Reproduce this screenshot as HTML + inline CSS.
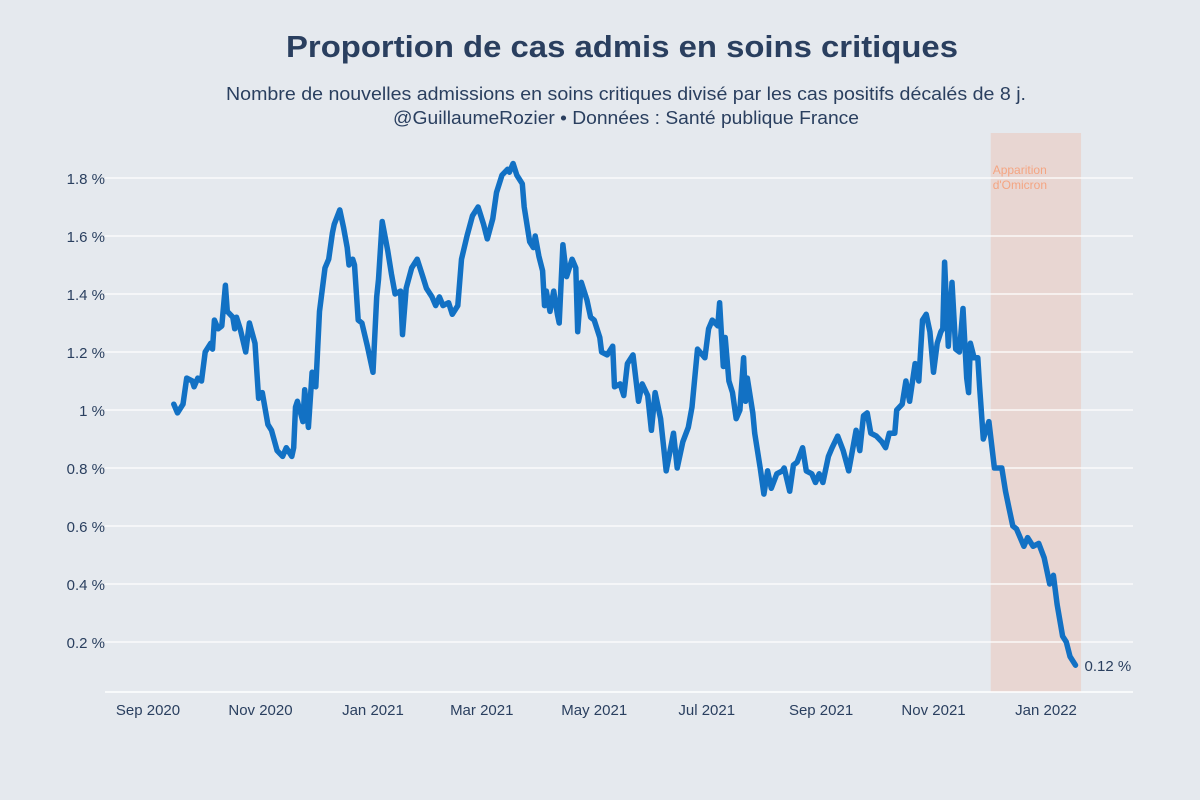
<!DOCTYPE html>
<html><head><meta charset="utf-8"><style>
html,body{margin:0;padding:0;background:#e5e9ee;}
svg{display:block;font-family:"Liberation Sans",sans-serif;}
</style></head><body>
<svg id="chart" width="1200" height="800">
<rect x="0" y="0" width="1200" height="800" fill="#e5e9ee"/>
<text x="622" y="57" text-anchor="middle" font-size="31" font-weight="bold" fill="#2a3f5f" textLength="672" lengthAdjust="spacingAndGlyphs">Proportion de cas admis en soins critiques</text>
<text x="626" y="100" text-anchor="middle" font-size="18.5" fill="#2a3f5f" textLength="800" lengthAdjust="spacingAndGlyphs">Nombre de nouvelles admissions en soins critiques divisé par les cas positifs décalés de 8 j.</text>
<text x="626" y="124" text-anchor="middle" font-size="18.5" fill="#2a3f5f" textLength="466" lengthAdjust="spacingAndGlyphs">@GuillaumeRozier • Données : Santé publique France</text>
<g id="band"></g>
<g id="grid"></g>
<g id="yaxis"></g>
<g id="xaxis"></g>
<g id="series"></g>
</svg>
<script>
const days = [14,16,19,21,24,25,27,29,31,34,35,36,38,40,42,43,46,47,48,50,53,55,58,60,62,65,67,70,73,75,76,78,79,80,81,84,85,87,89,91,93,96,98,100,101,104,106,108,109,111,112,114,116,119,122,124,125,127,130,132,134,137,138,140,143,146,149,151,154,156,158,160,163,165,168,170,173,176,179,182,184,187,189,192,195,196,198,200,203,204,207,209,210,212,214,215,216,218,220,222,223,225,227,230,232,233,235,238,240,242,245,246,249,252,253,256,258,260,263,266,268,271,273,275,278,281,285,287,290,293,295,298,302,304,306,309,310,312,313,315,317,319,321,323,324,325,328,329,332,334,336,338,341,344,345,348,350,352,355,357,360,362,364,366,369,371,374,377,380,382,384,386,388,390,392,395,398,400,402,405,406,409,411,413,416,418,420,422,424,426,428,430,431,432,434,436,438,440,442,444,445,446,448,450,451,453,456,459,463,465,467,469,471,475,477,480,483,486,489,491,493,496,498,500,503];
const values = [1.02,0.99,1.02,1.11,1.10,1.08,1.11,1.10,1.20,1.23,1.21,1.31,1.28,1.29,1.43,1.34,1.32,1.28,1.32,1.28,1.20,1.30,1.23,1.04,1.06,0.95,0.93,0.86,0.84,0.87,0.86,0.84,0.87,1.01,1.03,0.96,1.07,0.94,1.13,1.08,1.34,1.49,1.52,1.61,1.64,1.69,1.63,1.56,1.50,1.52,1.50,1.31,1.30,1.22,1.13,1.39,1.45,1.65,1.55,1.47,1.40,1.41,1.26,1.42,1.49,1.52,1.46,1.42,1.39,1.36,1.39,1.36,1.37,1.33,1.36,1.52,1.60,1.67,1.70,1.64,1.59,1.66,1.75,1.81,1.83,1.82,1.85,1.81,1.78,1.70,1.58,1.56,1.60,1.53,1.48,1.36,1.41,1.34,1.41,1.33,1.30,1.57,1.46,1.52,1.49,1.27,1.44,1.38,1.32,1.31,1.25,1.20,1.19,1.22,1.08,1.09,1.05,1.16,1.19,1.03,1.09,1.05,0.93,1.06,0.97,0.79,0.92,0.80,0.89,0.94,1.01,1.21,1.18,1.28,1.31,1.29,1.37,1.15,1.25,1.10,1.06,0.97,1.00,1.18,1.03,1.11,0.99,0.92,0.80,0.71,0.79,0.73,0.78,0.79,0.80,0.72,0.81,0.82,0.87,0.79,0.78,0.75,0.78,0.75,0.84,0.87,0.91,0.86,0.79,0.86,0.93,0.86,0.98,0.99,0.92,0.91,0.89,0.87,0.92,0.92,1.00,1.02,1.10,1.03,1.16,1.10,1.31,1.33,1.27,1.13,1.23,1.27,1.28,1.51,1.22,1.44,1.21,1.20,1.35,1.11,1.06,1.23,1.18,1.18,1.08,0.90,0.96,0.80,0.80,0.72,0.66,0.60,0.59,0.53,0.56,0.53,0.54,0.49,0.40,0.43,0.33,0.22,0.20,0.15,0.12];
const yTicks = [0.2,0.4,0.6,0.8,1,1.2,1.4,1.6,1.8];
const yTickLabels = ["0.2 %","0.4 %","0.6 %","0.8 %","1 %","1.2 %","1.4 %","1.6 %","1.8 %"];
const xTickDays = [0,61,122,181,242,303,365,426,487];
const xTickLabels = ["Sep 2020","Nov 2020","Jan 2021","Mar 2021","May 2021","Jul 2021","Sep 2021","Nov 2021","Jan 2022"];
const omicronDays = [457,506];
const lastLabel = "0.12 %";

const NS = "http://www.w3.org/2000/svg";
const X0 = 105, X1 = 1133, YB = 692, YT = 133;
const xs = d => 148 + d * 1.844;
const ys = v => 700 - v * 290;
function mk(tag, attrs, parent){const e=document.createElementNS(NS,tag);for(const k in attrs)e.setAttribute(k,attrs[k]);parent.appendChild(e);return e;}

const band = document.getElementById('band');
const br = mk('rect',{x:xs(omicronDays[0]),y:YT,width:xs(omicronDays[1])-xs(omicronDays[0]),height:YB-YT,fill:'#e8d6d2'},band);


const bt1 = mk('text',{x:xs(omicronDays[0])+2,y:174,'font-size':12,fill:'#f4a582'},band);
bt1.textContent='Apparition';


const bt2 = mk('text',{x:xs(omicronDays[0])+2,y:189,'font-size':12,fill:'#f4a582'},band);
bt2.textContent="d'Omicron";



const grid = document.getElementById('grid'), yax = document.getElementById('yaxis');
yTicks.forEach((t,i)=>{
  const l = mk('line',{x1:X0,x2:X1,y1:ys(t),y2:ys(t),stroke:'#ffffff','stroke-width':1.3},grid);
  
  
  const tx = mk('text',{x:X0,y:ys(t)+6,'text-anchor':'end','font-size':15,fill:'#2a3f5f'},yax);
  tx.textContent = yTickLabels[i];
  
  
});
const base = mk('line',{x1:X0,x2:X1,y1:YB,y2:YB,stroke:'#ffffff','stroke-width':1.5},grid);



const xax = document.getElementById('xaxis');
xTickDays.forEach((d,i)=>{
  const tx = mk('text',{x:xs(d),y:715,'text-anchor':'middle','font-size':15,fill:'#2a3f5f'},xax);
  tx.textContent = xTickLabels[i];
  
  
});

const ser = document.getElementById('series');
const pts = days.map((d,i)=>xs(d).toFixed(1)+','+ys(values[i]).toFixed(1)).join(' ');
const pl = mk('polyline',{points:pts,fill:'none',stroke:'#1271c4','stroke-width':5.5,'stroke-linejoin':'round','stroke-linecap':'round'},ser);


const li = days.length-1;
const lt = mk('text',{x:xs(days[li])+9,y:ys(values[li])+6,'font-size':15,fill:'#2a3f5f'},ser);
lt.textContent = lastLabel;


</script>
</body></html>
